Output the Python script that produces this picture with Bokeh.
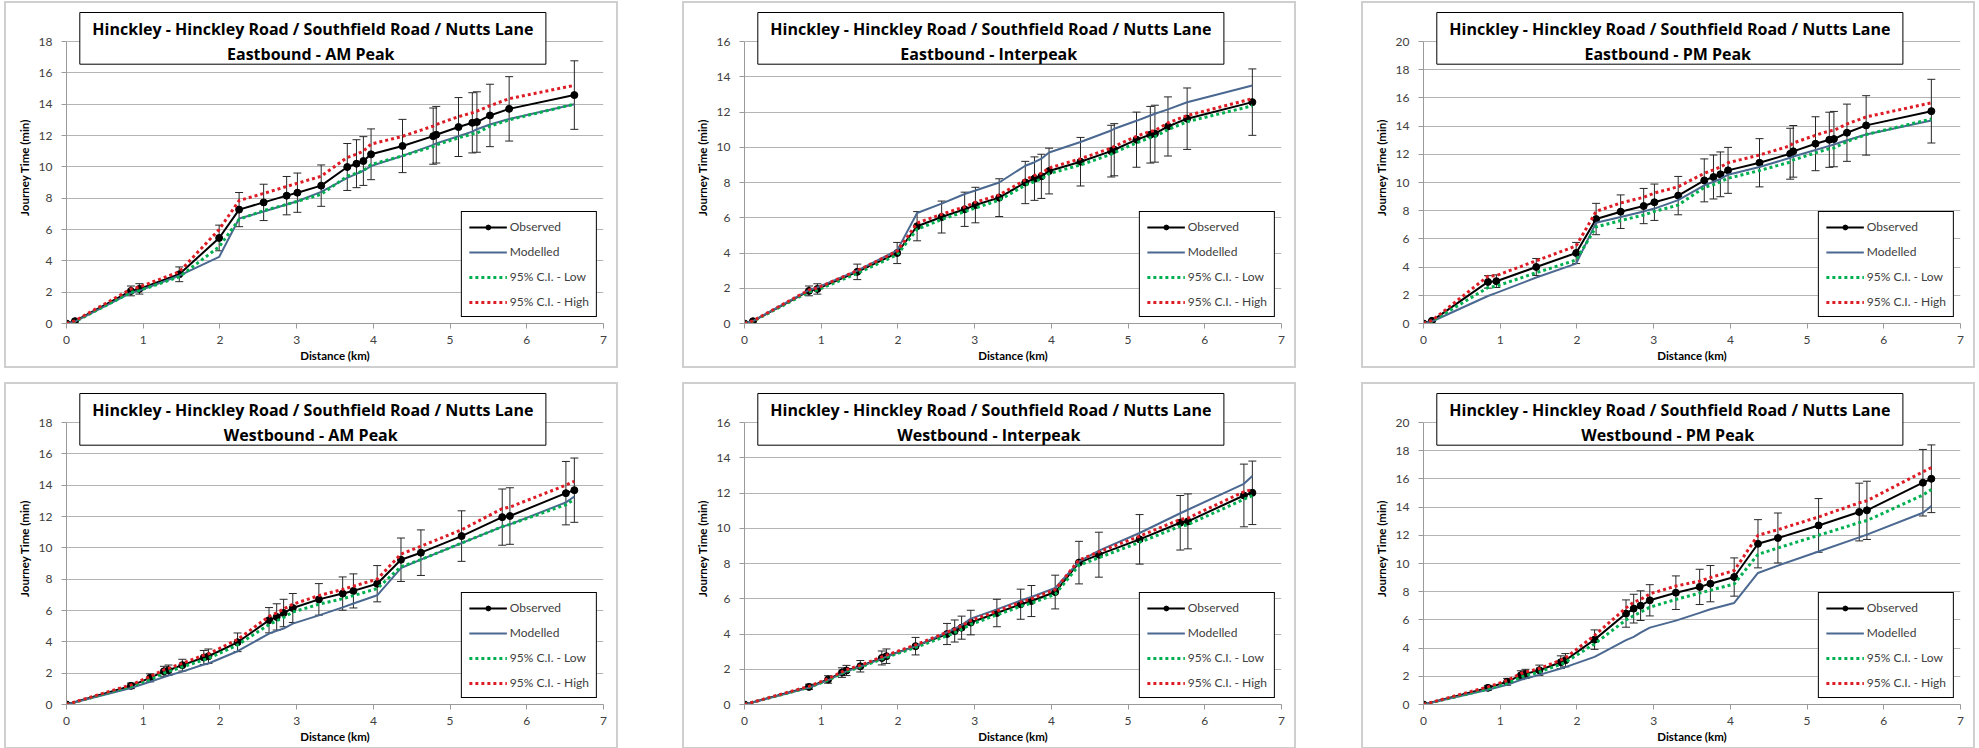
from bokeh.plotting import figure
from bokeh.models import (Range1d, FixedTicker, Legend, LegendItem, Label, Whisker, TeeHead,
                          ColumnDataSource, Spacer, BoxAnnotation)
from bokeh.layouts import row, column
from bokeh.embed import file_html
from bokeh.resources import INLINE

FONT = "Lato"
TITLE_FONT = "Open Sans"
ROUTE = "Hinckley - Hinckley Road / Southfield Road / Nutts Lane"
X_TICKS = [0, 1, 2, 3, 4, 5, 6, 7]
ERR_PCT = 15  # Excel percentage error bars on the observed series

# ---------------- Eastbound ----------------
EB_DIST = [0, 0.11, 0.84, 0.95, 1.47, 1.99, 2.25, 2.57, 2.87, 3.01, 3.32, 3.66,
           3.78, 3.87, 3.97, 4.38, 4.78, 4.82, 5.11, 5.29, 5.35, 5.52, 5.77, 6.62]

EB_AM_OBS = [0, 0.15, 2.08, 2.21, 3.14, 5.46, 7.27, 7.73, 8.16, 8.35, 8.8, 9.99,
             10.2, 10.37, 10.8, 11.33, 11.96, 12.05, 12.54, 12.81, 12.86, 13.28, 13.7, 14.58]
EB_AM_MOD = [0, 0.12, 1.95, 2.1, 3.05, 4.25, 6.7, 7.15, 7.6, 7.8, 8.4, 9.3,
             9.55, 9.75, 10.05, 10.7, 11.4, 11.5, 11.95, 12.25, 12.4, 12.7, 13.05, 14.0]
EB_AM_LOW = [0, 0.12, 1.98, 2.1, 2.98, 4.9, 6.65, 7.2, 7.6, 7.8, 8.25, 9.4,
             9.6, 9.75, 10.15, 10.7, 11.3, 11.4, 11.85, 12.1, 12.15, 12.6, 13.0, 14.0]
EB_AM_HIGH = [0, 0.17, 2.2, 2.33, 3.3, 6.0, 7.85, 8.3, 8.75, 8.95, 9.4, 10.6,
              10.8, 11.0, 11.45, 11.95, 12.6, 12.7, 13.2, 13.45, 13.55, 13.9, 14.35, 15.2]

EB_IP_OBS = [0, 0.13, 1.85, 1.96, 2.93, 4.0, 5.52, 6.04, 6.48, 6.72, 7.14, 8.0,
             8.22, 8.35, 8.65, 9.18, 9.78, 9.86, 10.43, 10.71, 10.77, 11.18, 11.62, 12.56]
EB_IP_MOD = [0, 0.14, 1.9, 2.05, 3.0, 4.15, 6.27, 6.8, 7.35, 7.55, 8.0, 8.95,
             9.15, 9.35, 9.7, 10.3, 10.95, 11.05, 11.5, 11.8, 11.9, 12.15, 12.55, 13.5]
EB_IP_LOW = [0, 0.12, 1.8, 1.9, 2.85, 3.9, 5.35, 5.9, 6.35, 6.55, 7.0, 7.85,
             8.05, 8.2, 8.5, 9.0, 9.6, 9.7, 10.25, 10.55, 10.6, 11.0, 11.45, 12.35]
EB_IP_HIGH = [0, 0.15, 1.9, 2.02, 3.0, 4.1, 5.7, 6.2, 6.62, 6.88, 7.3, 8.15,
              8.4, 8.52, 8.82, 9.35, 9.95, 10.05, 10.62, 10.9, 10.95, 11.38, 11.8, 12.75]

EB_PM_OBS = [0, 0.19, 2.95, 3.0, 4.01, 5.0, 7.41, 7.93, 8.33, 8.6, 9.07, 10.15,
             10.39, 10.58, 10.86, 11.4, 12.04, 12.21, 12.75, 13.03, 13.08, 13.53, 14.05, 15.06]
EB_PM_MOD = [0, 0.14, 1.95, 2.17, 3.26, 4.25, 7.15, 7.55, 7.95, 8.15, 8.75, 9.8,
             10.05, 10.25, 10.55, 11.1, 11.75, 11.85, 12.3, 12.6, 12.7, 13.0, 13.4, 14.4]
EB_PM_LOW = [0, 0.16, 2.55, 2.65, 3.6, 4.5, 6.85, 7.3, 7.7, 7.95, 8.4, 9.65,
             9.85, 10.05, 10.3, 10.85, 11.45, 11.6, 12.1, 12.4, 12.45, 12.9, 13.4, 14.5]
EB_PM_HIGH = [0, 0.21, 3.35, 3.4, 4.45, 5.5, 7.95, 8.55, 8.95, 9.25, 9.7, 10.65,
              10.9, 11.1, 11.4, 11.95, 12.6, 12.8, 13.35, 13.65, 13.7, 14.15, 14.65, 15.65]

# ---------------- Westbound ----------------
WB_DIST = [0, 0.84, 1.09, 1.27, 1.33, 1.51, 1.79, 1.85, 2.23, 2.64, 2.74, 2.83,
           2.95, 3.29, 3.6, 3.74, 4.05, 4.36, 4.62, 5.15, 5.68, 5.78, 6.51, 6.62]

WB_AM_OBS = [0, 1.19, 1.7, 2.12, 2.19, 2.51, 3.0, 3.08, 3.97, 5.38, 5.59, 5.84,
             6.16, 6.71, 7.08, 7.25, 7.71, 9.24, 9.69, 10.75, 11.96, 12.03, 13.49, 13.68]
WB_AM_MOD = [0, 1.05, 1.45, 1.75, 1.85, 2.1, 2.55, 2.62, 3.4, 4.53, 4.7, 4.85,
             5.16, 5.69, 6.2, 6.45, 6.97, 8.71, 9.25, 10.3, 11.35, 11.5, 12.9, 13.28]
WB_AM_LOW = [0, 1.15, 1.6, 2.0, 2.1, 2.4, 2.85, 2.95, 3.8, 5.1, 5.35, 5.55,
             5.9, 6.4, 6.75, 6.95, 7.4, 8.8, 9.25, 10.3, 11.35, 11.5, 12.75, 13.1]
WB_AM_HIGH = [0, 1.25, 1.78, 2.22, 2.3, 2.63, 3.15, 3.23, 4.15, 5.62, 5.85, 6.1,
              6.4, 6.95, 7.35, 7.55, 8.0, 9.6, 10.1, 11.15, 12.5, 12.6, 14.0, 14.25]

WB_IP_OBS = [0, 1.0, 1.42, 1.81, 1.93, 2.17, 2.64, 2.74, 3.31, 4.0, 4.17, 4.36,
             4.65, 5.19, 5.69, 5.87, 6.38, 8.05, 8.5, 9.37, 10.31, 10.39, 11.86, 12.01]
WB_IP_MOD = [0, 0.95, 1.38, 1.75, 1.88, 2.15, 2.6, 2.72, 3.3, 4.1, 4.3, 4.5,
             4.87, 5.4, 5.9, 6.1, 6.61, 8.1, 8.73, 9.73, 10.85, 11.05, 12.52, 12.96]
WB_IP_LOW = [0, 0.97, 1.38, 1.77, 1.88, 2.12, 2.58, 2.68, 3.24, 3.9, 4.07, 4.26,
             4.55, 5.08, 5.57, 5.75, 6.25, 7.9, 8.33, 9.2, 10.12, 10.2, 11.65, 11.85]
WB_IP_HIGH = [0, 1.03, 1.46, 1.85, 1.98, 2.22, 2.7, 2.8, 3.38, 4.1, 4.27, 4.46,
              4.76, 5.3, 5.81, 6.0, 6.52, 8.2, 8.66, 9.55, 10.5, 10.58, 12.07, 12.2]

WB_PM_OBS = [0, 1.18, 1.61, 2.08, 2.17, 2.43, 3.0, 3.14, 4.6, 6.45, 6.8, 7.01,
             7.39, 7.93, 8.34, 8.57, 9.04, 11.4, 11.81, 12.7, 13.65, 13.77, 15.73, 16.01]
WB_PM_MOD = [0, 1.05, 1.4, 1.75, 1.85, 2.1, 2.55, 2.65, 3.38, 4.56, 4.8, 5.1,
             5.45, 5.95, 6.5, 6.75, 7.2, 9.33, 9.85, 10.85, 11.85, 12.05, 13.6, 14.07]
WB_PM_LOW = [0, 1.1, 1.5, 1.95, 2.05, 2.3, 2.85, 3.0, 4.3, 6.0, 6.3, 6.55,
             6.9, 7.45, 7.9, 8.1, 8.55, 10.65, 11.1, 12.0, 12.9, 13.05, 14.85, 15.25]
WB_PM_HIGH = [0, 1.25, 1.7, 2.2, 2.3, 2.55, 3.15, 3.3, 4.9, 6.85, 7.25, 7.45,
              7.85, 8.4, 8.75, 9.0, 9.5, 12.0, 12.4, 13.3, 14.3, 14.45, 16.5, 16.8]

PANELS = [
    ("Eastbound  - AM Peak", EB_DIST, EB_AM_OBS, EB_AM_MOD, EB_AM_LOW, EB_AM_HIGH, 18),
    ("Eastbound  - Interpeak", EB_DIST, EB_IP_OBS, EB_IP_MOD, EB_IP_LOW, EB_IP_HIGH, 16),
    ("Eastbound  - PM Peak", EB_DIST, EB_PM_OBS, EB_PM_MOD, EB_PM_LOW, EB_PM_HIGH, 20),
    ("Westbound  - AM Peak", WB_DIST, WB_AM_OBS, WB_AM_MOD, WB_AM_LOW, WB_AM_HIGH, 18),
    ("Westbound  - Interpeak", WB_DIST, WB_IP_OBS, WB_IP_MOD, WB_IP_LOW, WB_IP_HIGH, 16),
    ("Westbound  - PM Peak", WB_DIST, WB_PM_OBS, WB_PM_MOD, WB_PM_LOW, WB_PM_HIGH, 20),
]

AXIS_COLOR = "#9a9a9a"
GRID_COLOR = "#b4b4b4"
TEXT_COLOR = "#404040"
OBS_COLOR = "black"
MOD_COLOR = "#4a6890"
LOW_COLOR = "#00b050"
HIGH_COLOR = "#dd1c25"
ERR_COLOR = "#262626"

FIG_H = 363
BORDER_TOP = 8
BORDER_BOTTOM = 43
FRAME_H = FIG_H - BORDER_TOP - BORDER_BOTTOM   # 312 px
AXIS_H = 282                                    # px from 0 to the top tick
FRAME_W = 537


def make_panel(subtitle, dist, obs, mod, low, high, ymax, width):
    ppu = AXIS_H / ymax                          # pixels per minute
    p = figure(width=width, height=FIG_H, x_range=Range1d(0, 7),
               y_range=Range1d(0, FRAME_H / ppu),
               output_backend="svg", toolbar_location=None,
               min_border_left=60, min_border_right=width - 60 - FRAME_W,
               min_border_top=BORDER_TOP, min_border_bottom=BORDER_BOTTOM,
               background_fill_color="white", border_fill_color="white",
               styles={"outline": "2px solid #cfcfcf"})
    p.outline_line_color = None
    p.xgrid.visible = False
    p.ygrid.grid_line_color = GRID_COLOR
    p.ygrid.grid_line_width = 1
    p.xaxis.ticker = FixedTicker(ticks=X_TICKS)
    p.yaxis.ticker = FixedTicker(ticks=list(range(0, ymax + 1, 2)))
    p.yaxis.bounds = (0, ymax)
    for ax in (p.xaxis[0], p.yaxis[0]):
        ax.axis_line_color = AXIS_COLOR
        ax.major_tick_line_color = AXIS_COLOR
        ax.major_tick_out = 5
        ax.major_tick_in = 0
        ax.minor_tick_line_color = None
        ax.major_label_text_font = FONT
        ax.major_label_text_font_size = "12px"
        ax.major_label_text_color = TEXT_COLOR
        ax.axis_label_text_font = FONT
        ax.axis_label_text_font_style = "bold"
        ax.axis_label_text_font_size = "11.5px"
        ax.axis_label_text_color = "black"
    p.xaxis.axis_label = "Distance (km)"
    p.yaxis.axis_label = "Journey Time (min)"
    p.xaxis.major_label_standoff = 7
    p.yaxis.major_label_standoff = 9
    p.xaxis.axis_label_standoff = 2
    p.yaxis.axis_label_standoff = 5

    src = ColumnDataSource(dict(
        x=dist, obs=obs, mod=mod, low=low, high=high,
        upper=[v * (100 + ERR_PCT) / 100 for v in obs],
        lower=[v * (100 - ERR_PCT) / 100 for v in obs],
    ))
    whisk = Whisker(source=src, base="x", upper="upper", lower="lower",
                    line_color=ERR_COLOR, line_width=1,
                    upper_head=TeeHead(size=8, line_color=ERR_COLOR, line_width=1),
                    lower_head=TeeHead(size=8, line_color=ERR_COLOR, line_width=1))
    p.add_layout(whisk)

    r_obs_l = p.line("x", "obs", source=src, line_color=OBS_COLOR, line_width=2)
    r_obs_m = p.scatter("x", "obs", source=src, size=7, fill_color=OBS_COLOR, line_color=OBS_COLOR)
    r_mod = p.line("x", "mod", source=src, line_color=MOD_COLOR, line_width=2)
    r_low = p.line("x", "low", source=src, line_color=LOW_COLOR, line_width=3, line_dash="3 3")
    r_high = p.line("x", "high", source=src, line_color=HIGH_COLOR, line_width=3, line_dash="3 3")

    legend = Legend(items=[
        LegendItem(label="Observed", renderers=[r_obs_l, r_obs_m]),
        LegendItem(label="Modelled", renderers=[r_mod]),
        LegendItem(label="95% C.I. - Low", renderers=[r_low]),
        LegendItem(label="95% C.I. - High", renderers=[r_high]),
    ], location="bottom_right", margin=6, padding=7, spacing=10,
        glyph_width=38, glyph_height=12, label_height=12, label_standoff=3,
        label_text_font=FONT, label_text_font_size="12px", label_text_color=TEXT_COLOR,
        border_line_color="black", border_line_width=1, border_line_alpha=1,
        background_fill_color="white", background_fill_alpha=1)
    p.add_layout(legend)

    # title box (pixel offsets from the plot origin converted to data units)
    km_per_px = 7 / FRAME_W
    box = BoxAnnotation(left=13.3 * km_per_px, right=479.4 * km_per_px,
                        bottom=259.3 / ppu, top=311.0 / ppu,
                        fill_color="white", fill_alpha=1,
                        line_color="black", line_alpha=1, line_width=1)
    p.add_layout(box)
    xc = 246.35 * km_per_px
    for txt, d in ((ROUTE, 294.5), (subtitle, 269.5)):
        p.add_layout(Label(x=xc, y=d / ppu, text=txt, text_align="center",
                           text_baseline="alphabetic", text_font=TITLE_FONT,
                           text_font_style="bold", text_font_size="16px",
                           text_color="black"))
    return p


figs = [make_panel(*cfg, width=610) for cfg in PANELS]

row1 = row(Spacer(width=6, height=FIG_H), figs[0], Spacer(width=68, height=FIG_H), figs[1],
           Spacer(width=69, height=FIG_H), figs[2])
row2 = row(Spacer(width=6, height=FIG_H), figs[3], Spacer(width=68, height=FIG_H), figs[4],
           Spacer(width=69, height=FIG_H), figs[5])
layout = column(Spacer(width=1973, height=3), row1, Spacer(width=1973, height=18), row2)

open("out.html", "w").write(file_html(layout, INLINE))
